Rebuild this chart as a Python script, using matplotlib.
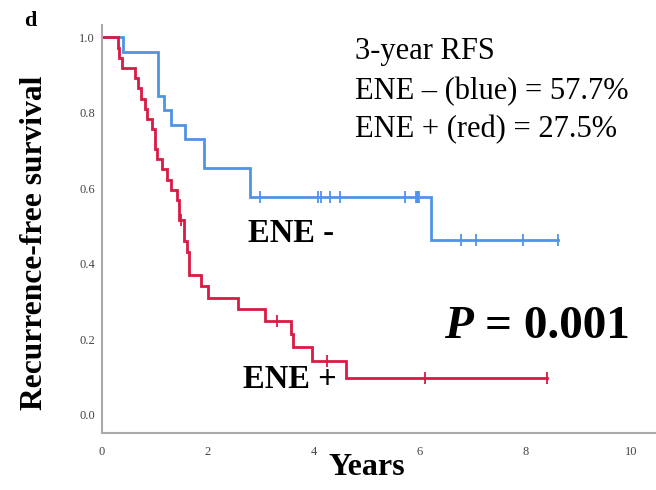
import matplotlib
matplotlib.use("Agg")
import matplotlib.pyplot as plt
import numpy as np

# ENE - (blue) Kaplan-Meier steps
blue_times = [0.40, 1.05, 1.17, 1.31, 1.57, 1.92, 2.79, 6.22]
blue_surv = [0.962, 0.846, 0.808, 0.769, 0.731, 0.654, 0.577, 0.462]
blue_censor = [2.98, 4.09, 4.13, 4.30, 4.50, 5.72, 5.93, 5.96, 5.98, 6.00, 6.78, 7.06, 7.96, 8.62]
blue_end = 8.62

# ENE + (red) Kaplan-Meier steps
red_times = [0.30, 0.33, 0.37, 0.63, 0.68, 0.73, 0.81, 0.85, 0.95, 1.00, 1.04, 1.14,
             1.22, 1.31, 1.41, 1.46, 1.55, 1.60, 1.65, 1.88, 2.00, 2.57, 3.08, 3.58,
             3.61, 3.96, 4.62]
red_surv = [0.972, 0.945, 0.918, 0.893, 0.866, 0.838, 0.811, 0.783, 0.756, 0.705, 0.677, 0.650,
            0.622, 0.595, 0.570, 0.516, 0.460, 0.430, 0.370, 0.340, 0.310, 0.279, 0.247, 0.213,
            0.178, 0.141, 0.096]
red_censor = [1.49, 3.31, 4.26, 6.11, 8.41]
red_end = 8.41

x_ticks = [0, 2, 4, 6, 8, 10]
y_ticks = [0.0, 0.2, 0.4, 0.6, 0.8, 1.0]

BLUE = "#4f94e3"
RED = "#d81a44"
SERIF = ["Liberation Serif", "DejaVu Serif"]

fig = plt.figure(figsize=(6.56, 4.90), dpi=100)
ax = fig.add_axes([102 / 656, 1 - 433 / 490, 1 - 102 / 656, (433 - 25) / 490])


def step_xy(times, surv, end):
    xs = [0.0] + list(times) + [end]
    ys = [1.0] + list(surv) + [surv[-1]]
    return xs, ys


def surv_at(times, surv, t):
    s = 1.0
    for tt, ss in zip(times, surv):
        if tt <= t:
            s = ss
    return s


for times, surv, cens, end, col in [
    (blue_times, blue_surv, blue_censor, blue_end, BLUE),
    (red_times, red_surv, red_censor, red_end, RED),
]:
    xs, ys = step_xy(times, surv, end)
    ax.step(xs, ys, where="post", color=col, lw=2.0, solid_joinstyle="miter")
    cy = [surv_at(times, surv, c) for c in cens]
    ax.plot(cens, cy, ls="none", marker="|", ms=9, mew=1.3, color=col)

ax.set_xlim(0, 10.47)
ax.set_ylim(-0.049, 1.033)
ax.set_xticks(x_ticks)
ax.set_yticks(y_ticks)
ax.set_xticklabels([str(v) for v in x_ticks], fontfamily=SERIF, fontsize=9, color="#444444")
ax.set_yticklabels([f"{v:.1f}" for v in y_ticks], fontfamily=SERIF, fontsize=9, color="#444444")
ax.tick_params(axis="both", length=0)
ax.tick_params(axis="x", pad=9)
ax.tick_params(axis="y", pad=5)
for s in ["top", "right"]:
    ax.spines[s].set_visible(False)
for s in ["left", "bottom"]:
    ax.spines[s].set_color("#aaaaaa")
    ax.spines[s].set_linewidth(1.5)

fig.text(367 / 656, 1 - 467 / 490, "Years", fontfamily=SERIF, fontweight="bold", fontsize=23,
         ha="center", va="center")
fig.text(35 / 656, 1 - 243 / 490, "Recurrence-free survival", rotation=90, fontfamily=SERIF,
         fontweight="bold", fontsize=22.7, ha="center", va="center")
fig.text(30 / 656, 1 - 21 / 490, "d", fontfamily=SERIF, fontweight="bold", fontsize=16,
         ha="center", va="center")

fig.text(355 / 656, 1 - 52 / 490, "3-year RFS", fontfamily=SERIF, fontsize=22, ha="left", va="center")
fig.text(355 / 656, 1 - 92 / 490, "ENE \u2013 (blue) = 57.7%", fontfamily=SERIF, fontsize=22,
         ha="left", va="center")
fig.text(355 / 656, 1 - 130 / 490, "ENE + (red) = 27.5%", fontfamily=SERIF, fontsize=22,
         ha="left", va="center")

fig.text(248 / 656, 1 - 233 / 490, "ENE -", fontfamily=SERIF, fontweight="bold", fontsize=23.5,
         ha="left", va="center")
fig.text(243 / 656, 1 - 380 / 490, "ENE +", fontfamily=SERIF, fontweight="bold", fontsize=23.5,
         ha="left", va="center")

fig.text(473 / 656, 1 - 327 / 490, "P", fontfamily=SERIF, fontweight="bold", fontstyle="italic",
         fontsize=34, ha="right", va="center")
fig.text(485 / 656, 1 - 327 / 490, "= 0.001", fontfamily=SERIF, fontweight="bold",
         fontsize=34, ha="left", va="center")

fig.savefig("out.png", dpi=100)
